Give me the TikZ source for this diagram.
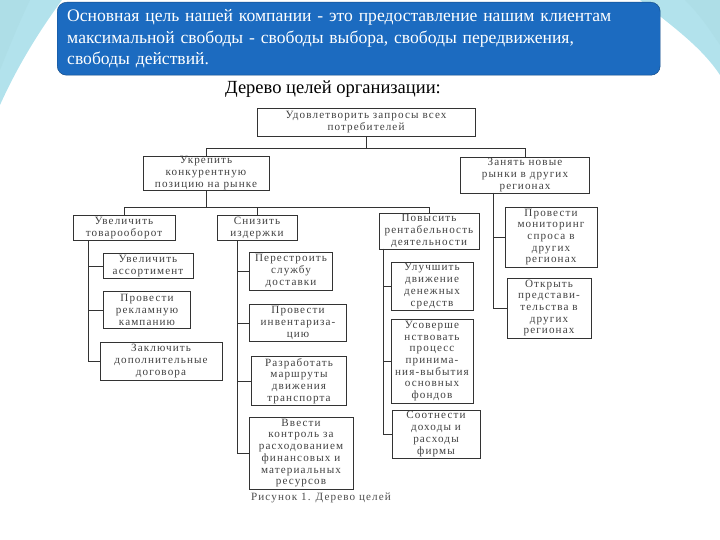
\documentclass[tikz,border=0pt]{standalone}
\usepackage{fontspec}
\setmainfont{Liberation Serif}
\newfontfamily\scanfont[LetterSpace=10]{Liberation Serif}
\usepackage{xcolor}
\usepackage{tikz}
\usetikzlibrary{arrows.meta, positioning, calc}
\definecolor{slideblue}{RGB}{28,107,192}
\definecolor{swoosh}{RGB}{178,226,236}
\definecolor{swooshdark}{RGB}{120,200,215}
\newcommand{\un}{0.03cm}

\begin{document}
\begin{tikzpicture}[
    x=0.03cm, y=-0.03cm,
    goal/.style 2 args={draw=black!80, line width=0.6pt, align=center, inner sep=0pt,
        minimum width=#1*\un, minimum height=#2*\un, text=black!75,
        font=\scanfont\fontsize{9.5}{10}\selectfont},
    tie/.style={draw=black!80, line width=0.6pt}
]
\useasboundingbox (0,0) rectangle (720,540);
% slide decoration
\fill[swoosh] (0,0) -- (62,0) .. controls (40,30) and (18,65) .. (0,105) -- cycle;
\fill[swooshdark!60] (0,0) -- (30,0) .. controls (18,25) and (8,50) .. (0,70) -- cycle;
\fill[swoosh] (720,0) -- (640,0) .. controls (670,25) and (700,45) .. (720,75) -- cycle;
\fill[swooshdark!60] (720,0) -- (685,0) .. controls (700,15) and (710,30) .. (720,45) -- cycle;
% heading
\node[draw=slideblue!70!black, fill=slideblue, rounded corners=8pt, anchor=north west,
      minimum width=603*\un, minimum height=73*\un, text width=583*\un, align=left,
      inner xsep=10*\un, text=white, font=\fontsize{15}{18.3}\selectfont] (head) at (57,2)
      {Основная цель нашей компании - это предоставление нашим клиентам\\
       максимальной свободы - свободы выбора, свободы передвижения,\\
       свободы действий.};
\node[font=\fontsize{15.8}{18}\selectfont] (title) at (333,89) {Дерево целей организации:};
% Nodes
\node[goal={218}{28}] (top) at (366,122) {Удовлетворить запросы всех\\потребителей};
\node[goal={126}{34}] (ukr) at (206,173) {Укрепить\\конкурентную\\позицию на рынке};
\node[goal={129}{36}] (zan) at (525,175) {Занять новые\\рынки в других\\регионах};
\node[goal={102}{25}] (uvt) at (124,228) {Увеличить\\товарооборот};
\node[goal={80}{25}] (sni) at (257,228) {Снизить\\издержки};
\node[goal={100}{36}] (pov) at (429,231) {Повысить\\рентабельность\\деятельности};
\node[goal={92}{60}] (mon) at (551,237) {Провести\\мониторинг\\спроса в\\других\\регионах};
\node[goal={84}{60}] (otk) at (549,308) {Открыть\\представи-\\тельства в\\других\\регионах};
\node[goal={90}{25}] (s1) at (148,266) {Увеличить\\ассортимент};
\node[goal={87}{37}] (s2) at (147,310) {Провести\\рекламную\\кампанию};
\node[goal={122}{38}] (s3) at (161,361) {Заключить\\дополнительные\\договора};
\node[goal={83}{38}] (d1) at (291,271) {Перестроить\\службу\\доставки};
\node[goal={97}{37}] (d2) at (298,323) {Провести\\инвентариза-\\цию};
\node[goal={95}{49}] (d3) at (299,381) {Разработать\\маршруты\\движения\\транспорта};
\node[goal={104}{72}] (d4) at (301,453) {Ввести\\контроль за\\расходованием\\финансовых и\\материальных\\ресурсов};
\node[goal={82}{48}] (r1) at (432,286) {Улучшить\\движение\\денежных\\средств};
\node[goal={82}{84}] (r2) at (432,361) {Усоверше\\нствовать\\процесс\\принима-\\ния-выбытия\\основных\\фондов};
\node[goal={88}{48}] (r3) at (436,434) {Соотнести\\доходы и\\расходы\\фирмы};
\node[text=black!70, font=\scanfont\fontsize{9.5}{10}\selectfont] (caption) at (321,498) {Рисунок 1. Дерево целей};
% Connectors
\coordinate (jt) at (366,148);
\coordinate (ju) at (206,207);
\coordinate (tu) at (88,240.5);
\coordinate (ts) at (237,240.5);
\coordinate (tp) at (383,249);
\coordinate (tz) at (493,193);
\draw[tie] (top.south) -- (jt);
\draw[tie] (jt) -| (ukr.north);
\draw[tie] (jt) -| (zan.north);
\draw[tie] (ukr.south) -- (ju);
\draw[tie] (ju) -| (uvt.north);
\draw[tie] (ju) -| (sni.north);
\draw[tie] (ju) -| (pov.north);
\foreach \s in {s1,s2,s3} \draw[tie] (tu) |- (\s.west);
\foreach \d in {d1,d2,d3,d4} \draw[tie] (ts) |- (\d.west);
\foreach \r in {r1,r2,r3} \draw[tie] (tp) |- (\r.west);
\foreach \z in {mon,otk} \draw[tie] (tz) |- (\z.west);
\end{tikzpicture}
\end{document}
